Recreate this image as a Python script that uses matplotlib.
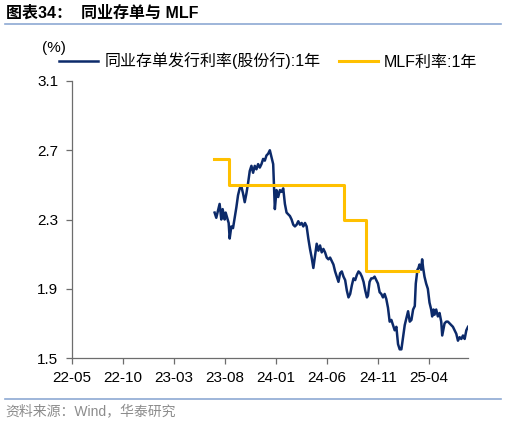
import pandas as pd
import matplotlib.pyplot as plt
import matplotlib.dates as mdates
from matplotlib.lines import Line2D

plt.rcParams['font.family'] = ['Liberation Sans', 'Noto Sans CJK SC']

# 同业存单发行利率(股份行):1年
ncd_dates = [
    '2023-07-01', '2023-07-06', '2023-07-16', '2023-07-21', '2023-07-25', '2023-07-31',
    '2023-08-03', '2023-08-12', '2023-08-15', '2023-08-20', '2023-08-25', '2023-08-30',
    '2023-09-04', '2023-09-09', '2023-09-14', '2023-09-19', '2023-09-24', '2023-09-29',
    '2023-10-04', '2023-10-09', '2023-10-14', '2023-10-19', '2023-10-24', '2023-10-29',
    '2023-11-03', '2023-11-08', '2023-11-13', '2023-11-18', '2023-11-23', '2023-11-28',
    '2023-12-03', '2023-12-08', '2023-12-13', '2023-12-18', '2023-12-23', '2023-12-28',
    '2024-01-02', '2024-01-07', '2024-01-12', '2024-01-17', '2024-01-22', '2024-01-27',
    '2024-02-01', '2024-02-06', '2024-02-11', '2024-02-16', '2024-02-21', '2024-02-26',
    '2024-03-02', '2024-03-07', '2024-03-12', '2024-03-17', '2024-03-22', '2024-03-27',
    '2024-04-01', '2024-04-06', '2024-04-11', '2024-04-16', '2024-04-21', '2024-04-26',
    '2024-05-01', '2024-05-06', '2024-05-11', '2024-05-16', '2024-05-21', '2024-05-26',
    '2024-05-31', '2024-06-05', '2024-06-10', '2024-06-15', '2024-06-20', '2024-06-25',
    '2024-06-30', '2024-07-05', '2024-07-10', '2024-07-15', '2024-07-20', '2024-07-25',
    '2024-07-30', '2024-08-04', '2024-08-09', '2024-08-14', '2024-08-19', '2024-08-24',
    '2024-08-29', '2024-09-03', '2024-09-08', '2024-09-13', '2024-09-18', '2024-09-23',
    '2024-09-28', '2024-10-01', '2024-10-06', '2024-10-11', '2024-10-16', '2024-10-21',
    '2024-10-26', '2024-10-31', '2024-11-05', '2024-11-10', '2024-11-15', '2024-11-20',
    '2024-11-25', '2024-11-30', '2024-12-05', '2024-12-10', '2024-12-15', '2024-12-20',
    '2024-12-25', '2024-12-30', '2025-01-04', '2025-01-09', '2025-01-14', '2025-01-19',
    '2025-01-24', '2025-01-29', '2025-02-03', '2025-02-08', '2025-02-13', '2025-02-18',
    '2025-02-21', '2025-02-26', '2025-03-01', '2025-03-04', '2025-03-09', '2025-03-12',
    '2025-03-15', '2025-03-19', '2025-03-24', '2025-03-29', '2025-04-03', '2025-04-08',
    '2025-04-11', '2025-04-15', '2025-04-18', '2025-04-23', '2025-04-28', '2025-05-03',
    '2025-05-08', '2025-05-11', '2025-05-15', '2025-05-18', '2025-05-23', '2025-05-28',
    '2025-06-02', '2025-06-07', '2025-06-12', '2025-06-17', '2025-06-22', '2025-06-27',
    '2025-07-02', '2025-07-07', '2025-07-12', '2025-07-17', '2025-07-22', '2025-07-27',
]
ncd_rate = [
    2.34, 2.31, 2.39, 2.30, 2.36, 2.30,
    2.34, 2.28, 2.19, 2.26, 2.25, 2.31,
    2.37, 2.44, 2.48, 2.49, 2.45, 2.40,
    2.45, 2.51, 2.58, 2.61, 2.57, 2.61,
    2.59, 2.62, 2.60, 2.62, 2.65, 2.64,
    2.67, 2.68, 2.70, 2.66, 2.62, 2.36,
    2.47, 2.43, 2.47, 2.46, 2.48, 2.39,
    2.34, 2.33, 2.32, 2.30, 2.27, 2.26,
    2.27, 2.29, 2.27, 2.28, 2.26, 2.28,
    2.26, 2.19, 2.13, 2.08, 2.02, 2.09,
    2.16, 2.12, 2.15, 2.11, 2.13, 2.11,
    2.08, 2.07, 2.08, 2.06, 2.04, 2.00,
    1.97, 1.94, 1.99, 2.00, 1.97, 1.95,
    1.89, 1.85, 1.87, 1.92, 1.96, 1.95,
    1.98, 2.00, 1.99, 1.97, 1.94, 1.89,
    1.85, 1.86, 1.94, 1.96, 1.96, 1.97,
    1.95, 1.93, 1.88, 1.87, 1.85, 1.87,
    1.84, 1.79, 1.71, 1.72, 1.69, 1.66,
    1.68, 1.58, 1.55, 1.55, 1.62, 1.69,
    1.73, 1.77, 1.71, 1.72, 1.78, 1.80,
    1.93, 2.01, 2.02, 2.04, 2.01, 2.07,
    2.02, 1.97, 1.93, 1.90, 1.82, 1.78,
    1.74, 1.78, 1.75, 1.78, 1.74, 1.76,
    1.71, 1.63, 1.67, 1.70, 1.71, 1.71,
    1.70, 1.69, 1.68, 1.66, 1.64, 1.60,
    1.62, 1.61, 1.63, 1.61, 1.66, 1.68,
]

# MLF利率:1年 (step series)
mlf_dates = ['2023-06-29', '2023-08-14', '2024-07-22', '2024-09-24', '2025-02-27']
mlf_rate = [2.65, 2.50, 2.30, 2.00, 2.00]

y_ticks = [1.5, 1.9, 2.3, 2.7, 3.1]
x_ticks = ['2022-05-01', '2022-10-01', '2023-03-01', '2023-08-01', '2024-01-01',
           '2024-06-01', '2024-11-01', '2025-04-01']

navy = '#0c2a6a'
gold = '#ffc000'
axis_col = '#6d6d6d'

fig = plt.figure(figsize=(5.06, 4.24), dpi=100)
ax = fig.add_axes([72 / 506, 1 - 358 / 424, 396 / 506, 277 / 424])

ax.plot(pd.to_datetime(ncd_dates), ncd_rate, color=navy, lw=1.8)
ax.plot(pd.to_datetime(mlf_dates), mlf_rate, color=gold, lw=2.2, drawstyle='steps-post')

ax.set_ylim(1.5, 3.1)
ax.set_yticks(y_ticks)
ax.set_yticklabels(['%.1f' % v for v in y_ticks])
ax.set_xlim(pd.Timestamp('2022-05-01'), pd.Timestamp('2025-07-27'))
ax.set_xticks(pd.to_datetime(x_ticks))
ax.xaxis.set_major_formatter(mdates.DateFormatter('%y-%m'))

for s in ['top', 'right']:
    ax.spines[s].set_visible(False)
for s in ['left', 'bottom']:
    ax.spines[s].set_color(axis_col)
    ax.spines[s].set_linewidth(0.9)
ax.tick_params(axis='both', direction='out', length=4, width=0.9, color=axis_col,
               labelsize=11, labelcolor='black')
ax.tick_params(axis='x', pad=5)
ax.tick_params(axis='y', pad=6)

# legend
handles = [Line2D([], [], color=navy, lw=1.8), Line2D([], [], color=gold, lw=2.2)]
fig.legend(handles, ['同业存单发行利率(股份行):1年', 'MLF利率:1年'], loc='center left',
           bbox_to_anchor=(59 / 506, 1 - 61 / 424), ncol=2, frameon=False, fontsize=11.5,
           handlelength=2.45, handletextpad=0.38, columnspacing=1.15, borderpad=0,
           borderaxespad=0)

fig.text(42 / 506, 1 - 48 / 424, '(%)', fontsize=11, ha='left', va='center')

# title and source
fig.text(6 / 506, 1 - 13 / 424, '图表34：  同业存单与 MLF', fontsize=11.5, fontweight='bold',
         ha='left', va='center')
fig.add_artist(Line2D([5 / 506, 501 / 506], [1 - 24 / 424, 1 - 24 / 424], color='#8ea9d3', lw=1.2))
fig.add_artist(Line2D([5 / 506, 501 / 506], [1 - 399 / 424, 1 - 399 / 424], color='#8ea9d3', lw=1.2))
fig.text(5 / 506, 1 - 411 / 424, '资料来源：Wind，华泰研究', fontsize=10, color='#8c8c8c',
         ha='left', va='center')

fig.savefig('out.png', dpi=100)
